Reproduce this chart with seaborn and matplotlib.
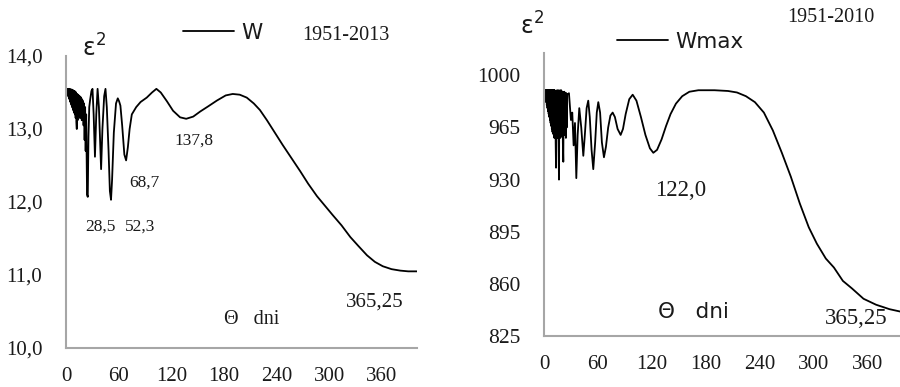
import numpy as np
import pandas as pd
import matplotlib
matplotlib.use("Agg")
import matplotlib.pyplot as plt
import seaborn as sns
from matplotlib.ticker import FixedLocator, FuncFormatter

# ---------------- data ----------------
left_day = [0, 0.5, 1.0, 1.4, 1.8, 2.2, 2.6, 3.0, 3.4, 3.8, 4.2, 4.6, 5.0, 5.4, 5.8,
            6.2, 6.6, 7.0, 7.4, 7.8, 8.2, 8.6, 9.0, 9.4, 9.8, 10.2, 10.6, 11.0, 11.4,
            11.8, 12.3, 12.8, 13.2, 13.6, 14.0, 14.5, 15.0, 15.5, 16.0, 16.5, 17.0,
            17.5, 18.0, 18.5, 19.0, 19.5, 20.0, 20.6, 21.2, 21.8, 22.4, 23.0, 24.0,
            24.8, 25.6, 26.5, 27.5, 29.0, 30.2, 31.5, 33.0, 34.5, 36.0, 37.5, 40.0,
            41.5, 43.5, 45.0, 46.5, 48.5, 50.0, 51.3, 52.5, 54.5, 57.0, 59.0, 60.5,
            62.0, 64.0, 66.5, 68.5, 70.5, 72.5, 75.0, 80.0, 85.0, 92.0, 98.0, 103.0,
            108.0, 115.0, 122.0, 130.0, 137.0, 145.0, 153.0, 162.0, 172.0, 182.0,
            190.0, 198.0, 206.0, 214.0, 221.0, 229.0, 238.0, 247.0, 257.0, 267.0,
            276.0, 286.0, 295.0, 304.0, 314.0, 324.0, 333.0, 343.0, 352.0, 361.0,
            371.0, 381.0, 390.0, 400.0]
left_eps = [13.55, 13.52, 13.55, 13.49, 13.55, 13.46, 13.55, 13.44, 13.55, 13.41, 13.55,
            13.38, 13.54, 13.36, 13.54, 13.33, 13.54, 13.30, 13.53, 13.28, 13.53, 13.25,
            13.52, 13.22, 13.52, 13.20, 13.51, 13.15, 13.50, 13.10, 13.00, 13.48, 13.12,
            13.47, 13.18, 13.46, 13.22, 13.45, 13.15, 13.44, 13.20, 13.42, 13.12, 13.40,
            13.25, 13.38, 13.05, 13.35, 12.85, 13.30, 12.70, 13.20, 12.10, 12.07, 12.90,
            13.30, 13.40, 13.52, 13.55, 13.20, 12.62, 13.20, 13.55, 13.30, 12.45, 13.00,
            13.45, 13.55, 13.30, 12.70, 12.15, 12.03, 12.30, 12.95, 13.35, 13.42, 13.38,
            13.32, 13.05, 12.65, 12.57, 12.75, 13.00, 13.20, 13.30, 13.37, 13.43, 13.50,
            13.55, 13.50, 13.38, 13.25, 13.16, 13.14, 13.17, 13.24, 13.31, 13.39, 13.46,
            13.48, 13.47, 13.43, 13.35, 13.26, 13.12, 12.95, 12.78, 12.60, 12.42, 12.25,
            12.08, 11.95, 11.82, 11.68, 11.52, 11.40, 11.27, 11.18, 11.12, 11.08, 11.06,
            11.05, 11.05]

right_day = [0, 0.35, 0.7, 1.05, 1.4, 1.75, 2.1, 2.45, 2.8, 3.15, 3.5, 3.85, 4.2, 4.55,
             4.9, 5.25, 5.6, 5.95, 6.3, 6.65, 7.0, 7.35, 7.7, 8.05, 8.4, 8.75, 9.1, 9.45,
             9.8, 10.15, 10.5, 10.85, 11.2, 11.55, 11.9, 12.25, 12.6, 13.0, 13.4, 13.8,
             14.15, 14.5, 14.85, 15.2, 15.55, 15.9, 16.3, 16.7, 17.1, 17.45, 17.8, 18.15,
             18.5, 18.85, 19.2, 19.55, 19.9, 20.25, 20.6, 21.0, 21.5, 21.9, 22.25, 22.6,
             22.95, 23.3, 23.65, 24.0, 24.4, 24.8, 25.3, 25.8, 27.8, 30.0, 31.5, 33.0,
             34.5, 36.0, 37.5, 39.3, 41.5, 43.8, 45.5, 47.5, 49.3, 51.0, 53.0, 54.9,
             57.0, 58.8, 60.5, 62.5, 64.5, 66.8, 69.0, 71.5, 74.0, 76.5, 79.0, 82.0,
             85.4, 88.0, 91.0, 95.0, 98.8, 103.0, 108.0, 113.0, 118.0, 121.8, 126.0,
             131.0, 136.0, 141.0, 147.0, 154.0, 162.0, 172.0, 190.0, 205.0, 215.0,
             225.0, 235.0, 245.0, 255.0, 265.0, 275.0, 285.0, 295.0, 304.0, 314.0,
             323.0, 333.0, 343.0, 356.0, 370.0, 385.0, 400.0]
right_eps = [990, 988, 990, 986, 990, 984, 990, 982, 990, 980, 990, 978, 990, 976,
             990, 974, 990, 972, 990, 970, 990, 968, 990, 966, 990, 964, 990, 962,
             990, 961, 990, 960, 990, 958, 990, 960, 989, 955, 938, 989,
             960, 990, 958, 989, 961, 990, 950, 930, 988, 960, 990, 958,
             989, 961, 990, 959, 988, 960, 989, 955, 942, 988, 962, 989,
             960, 988, 962, 988, 958, 988, 965, 987, 988, 970, 975, 953,
             968, 931, 960, 978, 965, 946, 960, 978, 983, 972, 950, 937,
             955, 975, 982, 975, 955, 945, 952, 965, 973, 975, 972, 964,
             960, 964, 974, 984, 987, 983, 972, 960, 951, 948, 950,
             957, 966, 974, 981, 986, 989, 990, 990, 989.5, 988.5,
             986, 982, 975, 963, 948, 932, 914, 898, 887, 877,
             871, 862, 857, 850, 846, 843, 841]

left_yticks = [10, 11, 12, 13, 14]
left_yminor = [10.5, 11.5, 12.5, 13.5]
right_yticks = [825, 860, 895, 930, 965, 1000]
xticks = [0, 60, 120, 180, 240, 300, 360]

left_df = pd.DataFrame({"day": left_day, "eps": left_eps})
right_df = pd.DataFrame({"day": right_day, "eps": right_eps})

# ---------------- style ----------------
sns.set_theme(style="white")
plt.rcParams["font.family"] = ["Liberation Serif", "DejaVu Serif"]
plt.rcParams["mathtext.fontset"] = "dejavusans"

W, H = 900, 387
fig = plt.figure(figsize=(9, 3.87), dpi=100)

def fx(px):
    return px / W

def fy(py):
    return 1 - py / H

axL = fig.add_axes([fx(66), fy(348), (417 - 66) / W, (348 - 56) / H])
axR = fig.add_axes([fx(544), fy(336), (903 - 544) / W, (336 - 53) / H])

sns.lineplot(data=left_df, x="day", y="eps", ax=axL, color="black", lw=1.3,
             estimator=None, label="W")
sns.lineplot(data=right_df, x="day", y="eps", ax=axR, color="black", lw=1.3,
             estimator=None, label="Wmax")

spine_c = "#a6a6a6"
tick_c = "#1a1a1a"
for ax in (axL, axR):
    ax.set_xlim(0, 400)
    ax.set_xlabel("")
    ax.set_ylabel("")
    for s in ("top", "right"):
        ax.spines[s].set_visible(False)
    for s in ("left", "bottom"):
        ax.spines[s].set_color(spine_c)
        ax.spines[s].set_linewidth(1.5)
    ax.xaxis.set_major_locator(FixedLocator(xticks))
    ax.tick_params(axis="both", which="both", direction="out", color=spine_c,
                   width=1.3, labelcolor=tick_c, labelsize=15)
    ax.tick_params(axis="y", which="both", length=8, pad=9)
    ax.tick_params(axis="x", which="both", length=6, pad=8)
    ax.patch.set_alpha(0)

axL.set_ylim(10, 14)
axL.yaxis.set_major_locator(FixedLocator(left_yticks))
axL.yaxis.set_minor_locator(FixedLocator(left_yminor))
axL.yaxis.set_major_formatter(FuncFormatter(lambda v, p: f"{v:.1f}".replace(".", ",")))

axR.set_ylim(825, 1015)
axR.yaxis.set_major_locator(FixedLocator(right_yticks))
axR.tick_params(axis="y", labelsize=15.5)

# legends
for ax, anchor, fs in ((axL, (183, 33), 15.5), (axR, (617, 42), 15.5)):
    ax.legend(loc="center left", bbox_to_anchor=(fx(anchor[0]), fy(anchor[1])),
              bbox_transform=fig.transFigure, frameon=False, borderpad=0,
              borderaxespad=0, handlelength=2.35, handletextpad=0.35,
              prop={"family": "DejaVu Sans", "size": fs})
    for t in ax.get_legend().get_texts():
        t.set_color(tick_c)

# texts (left)
sans = {"family": "DejaVu Sans"}
fig.text(fx(82), fy(57), "ε$^{2}$", fontsize=17, color=tick_c,
         ha="left", va="baseline", **sans)
fig.text(fx(346), fy(35), "1951-2013", fontsize=14.5, color=tick_c, ha="center", va="center")
fig.text(fx(194), fy(141), "137,8", fontsize=12.5, color=tick_c, ha="center", va="center")
fig.text(fx(144), fy(183), "68,7", fontsize=12.5, color=tick_c, ha="center", va="center")
fig.text(fx(100), fy(227), "28,5", fontsize=12.5, color=tick_c, ha="center", va="center")
fig.text(fx(140), fy(227), "52,3", fontsize=12.5, color=tick_c, ha="center", va="center")
fig.text(fx(252), fy(320), "Θ   dni", fontsize=14.5, color=tick_c, ha="center", va="center")
fig.text(fx(375), fy(302), "365,25", fontsize=15, color=tick_c, ha="center", va="center")

# texts (right)
fig.text(fx(520), fy(35), "ε$^{2}$", fontsize=17, color=tick_c,
         ha="left", va="baseline", **sans)
fig.text(fx(831), fy(18), "1951-2010", fontsize=14.5, color=tick_c, ha="center", va="center")
fig.text(fx(681), fy(191), "122,0", fontsize=16.5, color=tick_c, ha="center", va="center")
fig.text(fx(693), fy(312), "Θ   dni", fontsize=15.5, color=tick_c, ha="center",
         va="center", **sans)
fig.text(fx(856), fy(318), "365,25", fontsize=16.5, color=tick_c, ha="center", va="center")

fig.savefig("out.png", dpi=100, facecolor="white")
